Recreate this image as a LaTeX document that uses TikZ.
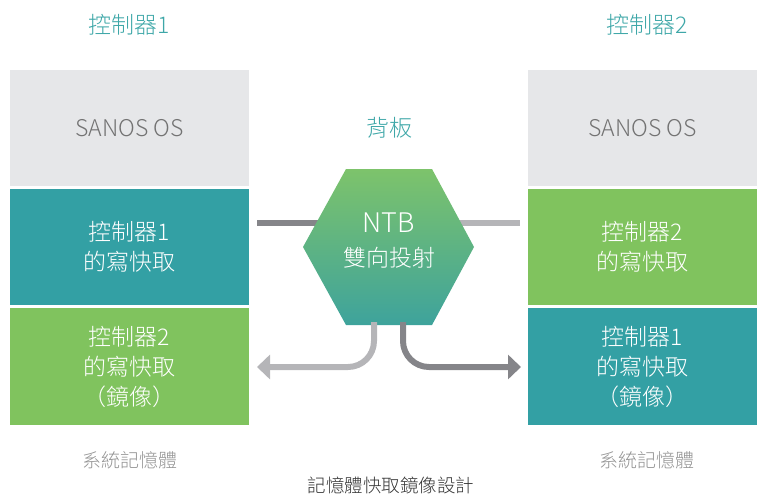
\documentclass[tikz,border=0pt]{standalone}
\usepackage{fontspec}
\setmainfont{Noto Sans CJK TC Light}
\usetikzlibrary{arrows.meta, positioning}

\definecolor{tealbox}{HTML}{33A0A4}
\definecolor{greenbox}{HTML}{80C35E}
\definecolor{osgray}{HTML}{E6E7E9}
\definecolor{titleteal}{HTML}{3EA7A8}
\definecolor{darkline}{HTML}{858589}
\definecolor{lightline}{HTML}{B5B5B8}
\definecolor{hextop}{HTML}{7DC36B}
\definecolor{hexbot}{HTML}{3EA39C}

\begin{document}
\begin{tikzpicture}[
  x=1pt, y=-1pt,
  every node/.style={font=\fontsize{23}{30}\selectfont, inner sep=0pt},
  title/.style={text=titleteal},
  osbox/.style={rectangle, fill=osgray, text=gray!90!black, align=center},
  cachebox/.style={rectangle, text=white, align=center},
  memlab/.style={text=gray!85, font=\fontsize{19}{22}\selectfont},
  link/.style={line width=6pt},
  flow/.style={line width=6pt, rounded corners=26pt,
               -{Triangle[width=24pt, length=13pt]}}
]
\useasboundingbox (0,0) rectangle (757,493);

% Controller 1
\node[title] (c1title) at (129.5,25) {控制器1};
\node[osbox, minimum width=239pt, minimum height=116pt] (os1) at (129.5,128) {SANOS OS};
\node[cachebox, fill=tealbox, minimum width=239pt, minimum height=116pt] (own1) at (129.5,247)
  {控制器1\\的寫快取};
\node[cachebox, fill=greenbox, minimum width=239pt, minimum height=117pt] (mir1) at (129.5,366.5)
  {控制器2\\的寫快取\\（鏡像）};
\node[memlab] (mem1) at (129.5,460) {系統記憶體};

% Controller 2
\node[title] (c2title) at (647,25) {控制器2};
\node[osbox, minimum width=229pt, minimum height=116pt] (os2) at (642.5,128) {SANOS OS};
\node[cachebox, fill=greenbox, minimum width=229pt, minimum height=116pt] (own2) at (642.5,247)
  {控制器2\\的寫快取};
\node[cachebox, fill=tealbox, minimum width=229pt, minimum height=117pt] (mir2) at (642.5,366.5)
  {控制器1\\的寫快取\\（鏡像）};
\node[memlab] (mem2) at (647,460) {系統記憶體};

% Backplane
\node[title] (bp) at (389,128) {背板};
\coordinate (linkL) at (257,223);
\coordinate (linkR) at (520,223);
\draw[link, darkline] (linkL) -- (360,223);
\draw[link, lightline] (418,223) -- (linkR);
\shade[top color=hextop, bottom color=hexbot]
  (346,169) -- (432,169) -- (474,247) -- (432,325) -- (346,325) -- (303,247) -- cycle;
\node[text=white, align=center, font=\fontsize{23}{34}\selectfont] (ntb) at (389,241)
  {{\fontsize{27}{34}\selectfont NTB}\\雙向投射};

% Mirror paths
\coordinate (outL) at (374,322);
\coordinate (outR) at (403,322);
\coordinate (endL) at (257,367);
\coordinate (endR) at (521,367);
\draw[flow, lightline] (outL) |- (endL);
\draw[flow, darkline] (outR) |- (endR);

\node[text=gray!40!black, font=\fontsize{18.5}{20}\selectfont] (caption) at (391,485) {記憶體快取鏡像設計};
\end{tikzpicture}
\end{document}
